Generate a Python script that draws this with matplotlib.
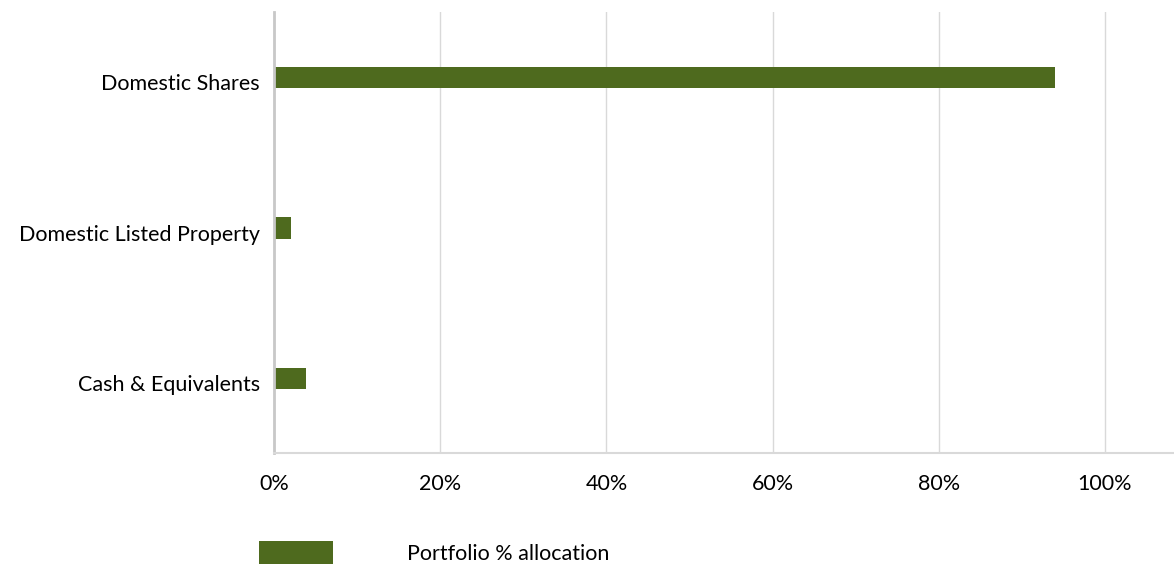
import matplotlib
matplotlib.use("Agg")
import matplotlib.pyplot as plt
import matplotlib.transforms as mtransforms
from matplotlib.ticker import PercentFormatter

# portfolio allocation (fraction of total)
categories = ["Domestic Shares", "Domestic Listed Property", "Cash & Equivalents"]
allocation = [0.94, 0.021, 0.039]
x_ticks = [0, 0.2, 0.4, 0.6, 0.8, 1.0]
series_name = "Portfolio % allocation"

plt.rcParams['font.family'] = ['Lato', 'DejaVu Sans']

fig = plt.figure(figsize=(11.74, 5.66), dpi=100)
ax = fig.add_axes([274 / 1174, 113 / 566, 900 / 1174, 441 / 566])

green = "#4E6A1E"
ax.barh(range(len(categories)), allocation, height=0.14, color=green, label=series_name)

ax.set_xlim(0, 900 / 831)
ax.set_ylim(2.495, -0.435)
ax.set_yticks(range(len(categories)))
ax.set_yticklabels(categories)
ax.set_xticks(x_ticks)
ax.xaxis.set_major_formatter(PercentFormatter(1.0, decimals=0))

ax.grid(axis="x", color="#D9D9D9", linewidth=1.0)
ax.set_axisbelow(True)
for side in ["top", "right"]:
    ax.spines[side].set_visible(False)
ax.spines["left"].set_color("#C8C8C8")
ax.spines["left"].set_linewidth(2)
ax.spines["bottom"].set_color("#D9D9D9")
ax.spines["bottom"].set_linewidth(1.5)

fs = 15.5
ax.tick_params(axis="both", length=0, labelsize=fs, colors="#000000")
ax.tick_params(axis="x", pad=15)
ax.tick_params(axis="y", pad=10)

# category labels sit a little below the bar centres in the original
shift = mtransforms.ScaledTranslation(0, -5 / 100, fig.dpi_scale_trans)
for lbl in ax.get_yticklabels():
    lbl.set_transform(lbl.get_transform() + shift)

fig.legend(loc="upper left", bbox_to_anchor=(259 / 1174, 1 - 541 / 566),
           frameon=False, fontsize=fs, borderpad=0, borderaxespad=0,
           handlelength=74 / 21.5, handleheight=1.25, handletextpad=74 / 21.5)

fig.savefig("out.png", dpi=100)
